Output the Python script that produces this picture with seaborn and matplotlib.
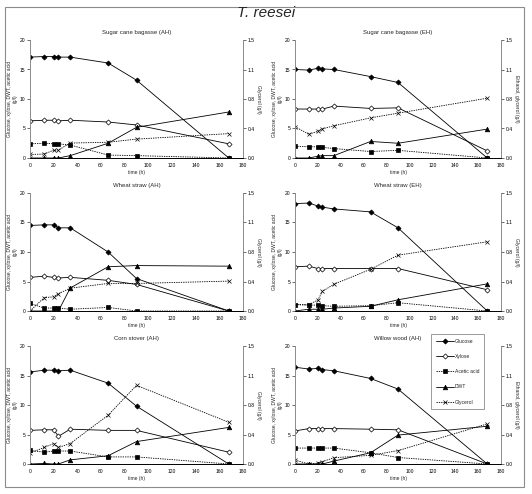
import matplotlib
matplotlib.use("Agg")
import matplotlib.pyplot as plt
from matplotlib.patches import Rectangle
import seaborn as sns

sns.set_style("white")
plt.rcParams['font.family'] = ['Liberation Sans', 'DejaVu Sans']

time_h = [0, 12, 20, 24, 34, 66, 90, 168]

panels = ["Sugar cane bagasse (AH)", "Sugar cane bagasse (EH)",
          "Wheat straw (AH)", "Wheat straw (EH)",
          "Corn stover (AH)", "Willow wood (AH)"]

right_labels = ["Glycerol (g/l)", "Ethanol, glycerol (g/l)",
                "Glycerol (g/l)", "Glycerol (g/l)",
                "Glycerol (g/l)", "Ethanol, glycerol (g/l)"]

# left axis, g/l
glucose = {
    "Sugar cane bagasse (AH)": [17.1, 17.2, 17.2, 17.1, 17.1, 16.1, 13.2, 0.0],
    "Sugar cane bagasse (EH)": [15.0, 14.9, 15.2, 15.1, 15.0, 13.8, 12.8, 0.0],
    "Wheat straw (AH)": [14.5, 14.6, 14.6, 14.1, 14.1, 10.0, 5.5, 0.0],
    "Wheat straw (EH)": [18.2, 18.3, 17.8, 17.6, 17.3, 16.8, 14.1, 0.0],
    "Corn stover (AH)": [15.6, 15.9, 15.9, 15.8, 15.9, 13.7, 9.8, 0.0],
    "Willow wood (AH)": [16.4, 16.1, 16.2, 16.0, 15.8, 14.5, 12.7, 0.0],
}
xylose = {
    "Sugar cane bagasse (AH)": [6.3, 6.4, 6.4, 6.3, 6.4, 6.1, 5.6, 2.4],
    "Sugar cane bagasse (EH)": [8.3, 8.3, 8.3, 8.3, 8.8, 8.4, 8.5, 1.2],
    "Wheat straw (AH)": [5.7, 5.9, 5.7, 5.6, 5.7, 5.2, 4.5, 0.0],
    "Wheat straw (EH)": [7.5, 7.6, 7.2, 7.2, 7.2, 7.2, 7.2, 3.6],
    "Corn stover (AH)": [5.7, 5.8, 5.8, 4.7, 5.9, 5.7, 5.7, 2.0],
    "Willow wood (AH)": [5.6, 6.0, 6.0, 6.0, 6.0, 5.9, 5.8, 0.0],
}
acetic_acid = {
    "Sugar cane bagasse (AH)": [2.4, 2.5, 2.4, 2.4, 2.2, 0.5, 0.4, 0.0],
    "Sugar cane bagasse (EH)": [2.0, 1.9, 1.9, 1.8, 1.6, 1.1, 1.3, 0.0],
    "Wheat straw (AH)": [1.3, 0.5, 0.5, 0.5, 0.3, 0.6, 0.0, 0.0],
    "Wheat straw (EH)": [1.1, 1.0, 1.0, 0.9, 0.8, 0.9, 1.4, 0.0],
    "Corn stover (AH)": [2.3, 2.0, 2.2, 2.2, 2.2, 1.2, 1.2, 0.0],
    "Willow wood (AH)": [2.7, 2.7, 2.7, 2.7, 2.7, 1.9, 1.1, 0.0],
}
dwt = {
    "Sugar cane bagasse (AH)": [0.0, 0.0, 0.0, 0.0, 0.4, 2.5, 5.2, 7.8],
    "Sugar cane bagasse (EH)": [0.0, 0.0, 0.3, 0.4, 0.4, 2.8, 2.5, 4.9],
    "Wheat straw (AH)": [0.0, 0.0, 0.0, 0.0, 3.9, 7.5, 7.7, 7.6],
    "Wheat straw (EH)": [0.0, 0.3, 0.3, 0.3, 0.5, 0.8, 1.9, 4.6],
    "Corn stover (AH)": [0.0, 0.1, 0.0, 0.0, 0.7, 1.4, 3.8, 6.2],
    "Willow wood (AH)": [0.0, 0.0, 0.0, 0.0, 0.5, 1.9, 4.9, 6.4],
}
# right axis, g/l
glycerol = {
    "Sugar cane bagasse (AH)": [0.045, 0.05, 0.10, 0.10, 0.19, 0.20, 0.24, 0.31],
    "Sugar cane bagasse (EH)": [0.40, 0.30, 0.34, 0.37, 0.41, 0.51, 0.57, 0.76],
    "Wheat straw (AH)": [0.0, 0.17, 0.18, 0.22, 0.29, 0.35, 0.35, 0.38],
    "Wheat straw (EH)": [0.08, 0.08, 0.14, 0.25, 0.34, 0.53, 0.71, 0.88],
    "Corn stover (AH)": [0.14, 0.21, 0.26, 0.21, 0.26, 0.62, 1.0, 0.53],
    "Willow wood (AH)": [0.05, 0.0, 0.01, 0.03, 0.08, 0.11, 0.17, 0.51],
}

dots = (0, (1.6, 1.2))

# name, data, axis, marker, face, size, linestyle
series = [
    ("Glucose", glucose, "left", "D", "black", 2.6, "-"),
    ("Xylose", xylose, "left", "D", "white", 2.6, "-"),
    ("Acetic acid", acetic_acid, "left", "s", "black", 3.5, dots),
    ("DWT", dwt, "left", "^", "black", 3.3, "-"),
    ("Glycerol", glycerol, "right", "x", "black", 3.5, dots),
]

fig = plt.figure(figsize=(5.32, 4.94), dpi=100)

col_left = [30 / 532, 295 / 532]
col_width = [213 / 532, 206 / 532]
row_bottom = [1 - 158 / 494, 1 - 311 / 494, 1 - 464 / 494]
height = 118 / 494

tick_fs = 3.6
legend_lines = []

for i, name in enumerate(panels):
    r, c = divmod(i, 2)
    ax = fig.add_axes([col_left[c], row_bottom[r], col_width[c], height])
    ax2 = ax.twinx()

    for label, data, side, mk, face, ms, ls in series:
        target = ax if side == "left" else ax2
        sns.lineplot(x=time_h, y=data[name], ax=target, color="black",
                     linewidth=0.6, linestyle=ls, marker=mk, markersize=ms,
                     markerfacecolor=face, markeredgecolor="black",
                     markeredgewidth=0.5, legend=False)
        if i == 5:
            line = target.lines[-1]
            line.set_label(label)
            legend_lines.append(line)

    ax.set_xlim(0, 180)
    ax.set_ylim(0, 20)
    ax2.set_ylim(0, 1.5)
    ax.set_xticks(range(0, 181, 20))
    ax.set_yticks([0, 5, 10, 15, 20])
    ax2.set_yticks([0, 0.375, 0.75, 1.125, 1.5])
    ax2.set_yticklabels(["%.1f" % v for v in [0, 0.375, 0.75, 1.125, 1.5]])

    ax.set_title(name, fontsize=4.3, pad=4)
    ax.set_xlabel("time (h)", fontsize=tick_fs, labelpad=1.5)
    ax.set_ylabel("Glucose, xylose, DWT, acetic acid\n(g/l)",
                  fontsize=tick_fs, labelpad=1.5, linespacing=1.0)
    ax2.set_ylabel(right_labels[i], fontsize=tick_fs, rotation=270,
                   labelpad=4.5)

    for a in (ax, ax2):
        a.tick_params(axis="both", labelsize=tick_fs, length=2, width=0.4,
                      pad=1.5, direction="out", colors="black")
        a.spines["top"].set_visible(False)
        for s in ("left", "right"):
            a.spines[s].set_color("#8c8c8c")
            a.spines[s].set_linewidth(0.6)
        a.spines["bottom"].set_color("black")
        a.spines["bottom"].set_linewidth(0.6)
    ax.tick_params(axis="y", right=False)
    ax2.tick_params(axis="y", left=False, right=True)

leg = fig.legend(handles=legend_lines, loc="upper left",
                 bbox_to_anchor=(431 / 532, 1 - 334 / 494),
                 borderaxespad=0, fontsize=tick_fs, labelspacing=2.05,
                 handlelength=3.6, handletextpad=0.3, borderpad=0.9,
                 fancybox=False, framealpha=1, edgecolor="#8c8c8c",
                 facecolor="white")
leg.get_frame().set_linewidth(0.6)

fig.text(0.5, 1 - 13 / 494, "T. reesei", ha="center", va="center",
         fontsize=11, style="italic")

fig.patches.append(Rectangle((5 / 532, 1 - 487 / 494), 519 / 532, 480 / 494,
                             transform=fig.transFigure, fill=False,
                             edgecolor="#8c8c8c", linewidth=0.8))

fig.savefig("out.png", dpi=100)
